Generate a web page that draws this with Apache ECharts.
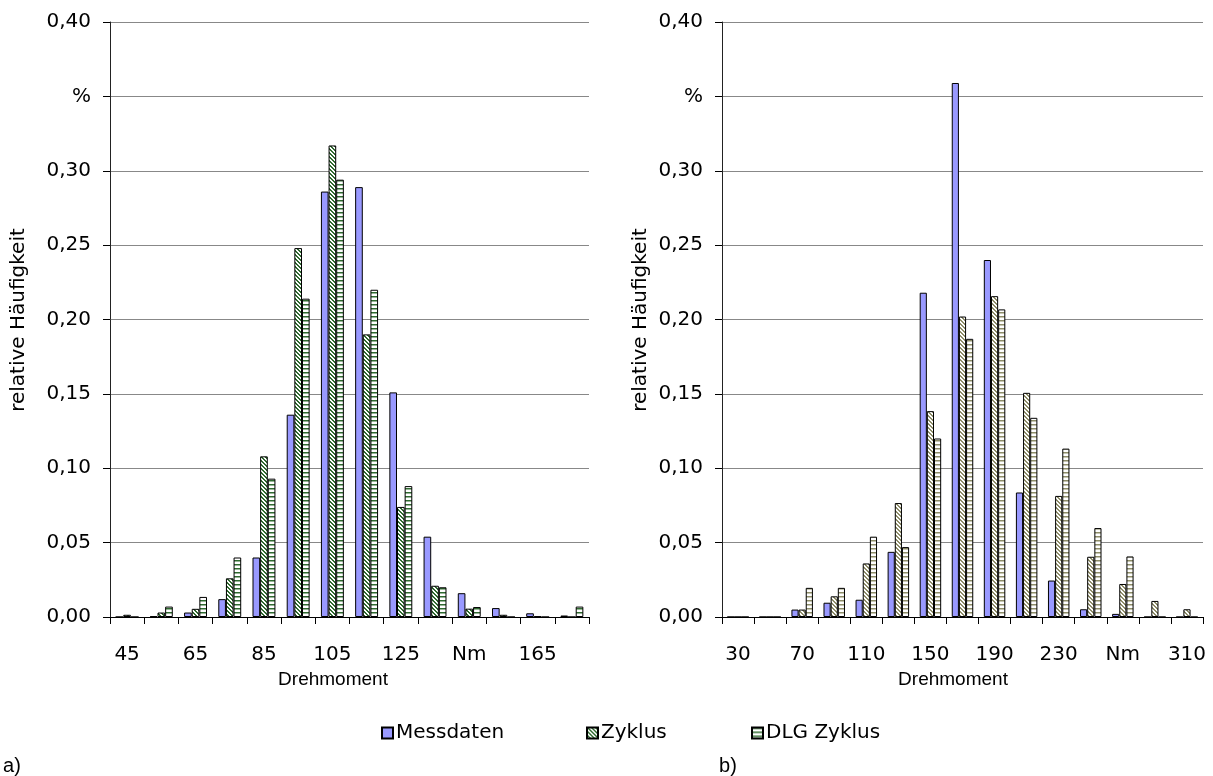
<!DOCTYPE html>
<html>
<head>
<meta charset="utf-8">
<title>relative Häufigkeit – Drehmoment</title>
<script src="https://cdn.jsdelivr.net/npm/echarts@6/dist/echarts.min.js"></script>
<style>
  html, body { margin: 0; padding: 0; background: #fff; }
  #chart { width: 1213px; height: 776px; }
</style>
</head>
<body>
<div id="chart"></div>
<script>
// Drehmoment-Klassen (Nm), links a) und rechts b)
const leftCats = ['45', '55', '65', '75', '85', '95', '105', '115', '125', '135', '145', '155', '165', '175'];
const rightCats = ['30', '50', '70', '90', '110', '130', '150', '170', '190', '210', '230', '250', '270', '290', '310'];

// a)
const leftMess = [0, 0.0005, 0.003, 0.012, 0.040, 0.136, 0.286, 0.289, 0.151, 0.054, 0.016, 0.006, 0.0025, 0.001];
const leftZyklus = [0.0015, 0.003, 0.0055, 0.026, 0.108, 0.248, 0.317, 0.190, 0.074, 0.021, 0.0056, 0.0015, 0.0005, 0];
const leftDlg = [0, 0.007, 0.0135, 0.040, 0.093, 0.214, 0.294, 0.220, 0.088, 0.020, 0.0067, 0, 0, 0.007];

// b)
const rightMess = [0, 0, 0.005, 0.0096, 0.0116, 0.0438, 0.218, 0.359, 0.240, 0.0837, 0.0245, 0.0052, 0.0021, 0, 0];
const rightZyklus = [0, 0, 0.005, 0.0139, 0.036, 0.0766, 0.1384, 0.202, 0.2157, 0.1507, 0.0814, 0.0405, 0.0222, 0.0108, 0.0052];
const rightDlg = [0, 0, 0.0196, 0.0196, 0.054, 0.047, 0.120, 0.187, 0.2068, 0.1339, 0.1132, 0.0598, 0.0407, 0, 0];

// tick labels: 0.35 is shown as the unit, one x class as "Nm"
const yTickLabels = ['0,00', '0,05', '0,10', '0,15', '0,20', '0,25', '0,30', '%', '0,40'];
const leftUnitCat = '145';
const rightUnitCat = '270';

const FONT = 'DejaVu Sans';
const FONT2 = 'Liberation Sans';

// small canvas patterns like the old excel fills
function fillPattern(color, kind) {
    const c = document.createElement('canvas');
    c.width = 4;
    c.height = 4;
    const ctx = c.getContext('2d');
    ctx.fillStyle = '#fff';
    ctx.fillRect(0, 0, 4, 4);
    ctx.fillStyle = color;
    if (kind === 'diag') {
        for (let i = 0; i < 4; i++) {
            ctx.fillRect(i, i, 1, 1);
            ctx.fillRect((i + 1) % 4, i, 1, 1);
        }
    } else {
        ctx.fillRect(0, 0, 4, 1);
        ctx.globalAlpha = 0.5;
        ctx.fillRect(0, 1, 4, 1);
    }
    return { image: c, repeat: 'repeat' };
}

const green = '#2f6a2f';
const khaki = '#8e8d68';

function barSeries(name, data, idx, fill) {
    return {
        name: name,
        type: 'bar',
        xAxisIndex: idx,
        yAxisIndex: idx,
        data: data,
        barGap: '0%',
        barCategoryGap: '33%',
        itemStyle: { color: fill, borderColor: '#000', borderWidth: 1 },
        emphasis: { disabled: true }
    };
}

function xAxis(idx, cats, unitCat) {
    return {
        type: 'category',
        gridIndex: idx,
        data: cats,
        axisLine: { lineStyle: { color: '#000', width: 1 } },
        axisTick: { show: true, interval: 0, length: 7, lineStyle: { color: '#000' } },
        axisLabel: {
            interval: 1,
            margin: 28,
            color: '#000',
            fontFamily: FONT,
            fontSize: 20,
            formatter: (v) => (v === unitCat ? 'Nm' : v)
        }
    };
}

function yAxis(idx) {
    return {
        type: 'value',
        gridIndex: idx,
        min: 0,
        max: 0.4,
        interval: 0.05,
        axisLine: { show: true, lineStyle: { color: '#222', width: 1 } },
        axisTick: { show: true, length: 7, lineStyle: { color: '#000' } },
        splitLine: { lineStyle: { color: '#888', width: 1 } },
        axisLabel: {
            margin: 19,
            color: '#000',
            fontFamily: FONT,
            fontSize: 20,
            formatter: (v) => yTickLabels[Math.round(v / 0.05)]
        }
    };
}

function legendItem(name, left) {
    return {
        data: [name],
        left: left,
        top: 723,
        icon: 'rect',
        itemWidth: 11,
        itemHeight: 11,
        itemGap: 0,
        padding: 0,
        selectedMode: false,
        textStyle: { color: '#000', fontFamily: FONT, fontSize: 20, padding: [0, 0, 0, -2] }
    };
}

function label(text, x, y, rotate, font) {
    return {
        type: 'text',
        x: x,
        y: y,
        rotation: rotate ? Math.PI / 2 : 0,
        style: {
            text: text,
            fill: '#000',
            font: font,
            align: 'center',
            verticalAlign: 'middle'
        }
    };
}

const chart = echarts.init(document.getElementById('chart'));

chart.setOption({
    backgroundColor: '#fff',
    animation: false,
    grid: [
        { left: 110, top: 22, width: 479, height: 595 },
        { left: 722, top: 22, width: 481, height: 595 }
    ],
    xAxis: [xAxis(0, leftCats, leftUnitCat), xAxis(1, rightCats, rightUnitCat)],
    yAxis: [yAxis(0), yAxis(1)],
    legend: [
        legendItem('Messdaten', 381),
        legendItem('Zyklus', 586),
        legendItem('DLG Zyklus', 751)
    ],
    graphic: [
        label('relative Häufigkeit', 19, 320, true, '20px "' + FONT + '"'),
        label('relative Häufigkeit', 641, 320, true, '20px "' + FONT + '"'),
        label('Drehmoment', 333, 680, false, '19px "' + FONT2 + '"'),
        label('Drehmoment', 953, 680, false, '19px "' + FONT2 + '"'),
        label('a)', 12, 766, false, '20px "' + FONT2 + '"'),
        label('b)', 728, 766, false, '20px "' + FONT2 + '"')
    ],
    series: [
        barSeries('Messdaten', leftMess, 0, '#9999ff'),
        barSeries('Zyklus', leftZyklus, 0, fillPattern(green, 'diag')),
        barSeries('DLG Zyklus', leftDlg, 0, fillPattern(green, 'horiz')),
        barSeries('Messdaten', rightMess, 1, '#9999ff'),
        barSeries('Zyklus', rightZyklus, 1, fillPattern(khaki, 'diag')),
        barSeries('DLG Zyklus', rightDlg, 1, fillPattern(khaki, 'horiz'))
    ]
});
</script>
</body>
</html>
